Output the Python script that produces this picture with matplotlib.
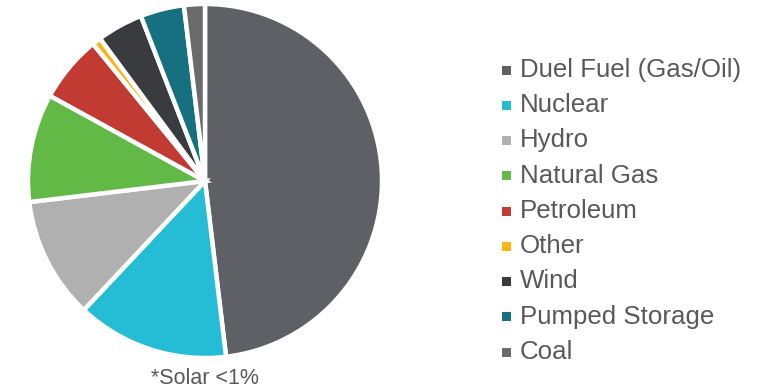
import matplotlib
matplotlib.use("Agg")
import matplotlib.pyplot as plt
from matplotlib.patches import Rectangle

plt.rcParams['font.family'] = ['Liberation Sans', 'DejaVu Sans']

# Generation capacity shares by fuel type (%)
labels = ["Duel Fuel (Gas/Oil)", "Nuclear", "Hydro", "Natural Gas", "Petroleum",
          "Other", "Wind", "Pumped Storage", "Coal"]
shares = [48.1, 13.9, 11.1, 9.9, 6.1, 0.8, 4.2, 4.0, 1.9]
colors = ["#5f6066", "#25bcd6", "#b0b0b0", "#62b946", "#c13b33",
          "#f9b418", "#3a3b3e", "#177080", "#6b6b6b"]
footnote = "*Solar <1%"

W, H = 774, 389
fig = plt.figure(figsize=(W / 100, H / 100), dpi=100)

# pie axes: centre (205, 181) px, radius 177 px
cx, cy, r = 205, 181, 177
ax = fig.add_axes([(cx - r) / W, (H - cy - r) / H, 2 * r / W, 2 * r / H])
ax.pie(shares, colors=colors, startangle=90, counterclock=False,
       wedgeprops=dict(edgecolor="white", linewidth=3.2))
ax.set_xlim(-1, 1)
ax.set_ylim(-1, 1)
ax.axis("off")

fig.text(cx / W, 1 - 378 / H, footnote, ha="center", va="center",
         fontsize=15.5, color="#595959")

# legend entries
y0, dy = 70, 35.25
for i, (lab, col) in enumerate(zip(labels, colors)):
    y = y0 + i * dy
    fig.patches.append(Rectangle((502 / W, 1 - (y + 4.5) / H), 9 / W, 9 / H,
                                 transform=fig.transFigure, facecolor=col,
                                 edgecolor="none"))
    fig.text(520 / W, 1 - y / H, lab, ha="left", va="center",
             fontsize=18.6, color="#595959")

fig.savefig("out.png", dpi=100)
